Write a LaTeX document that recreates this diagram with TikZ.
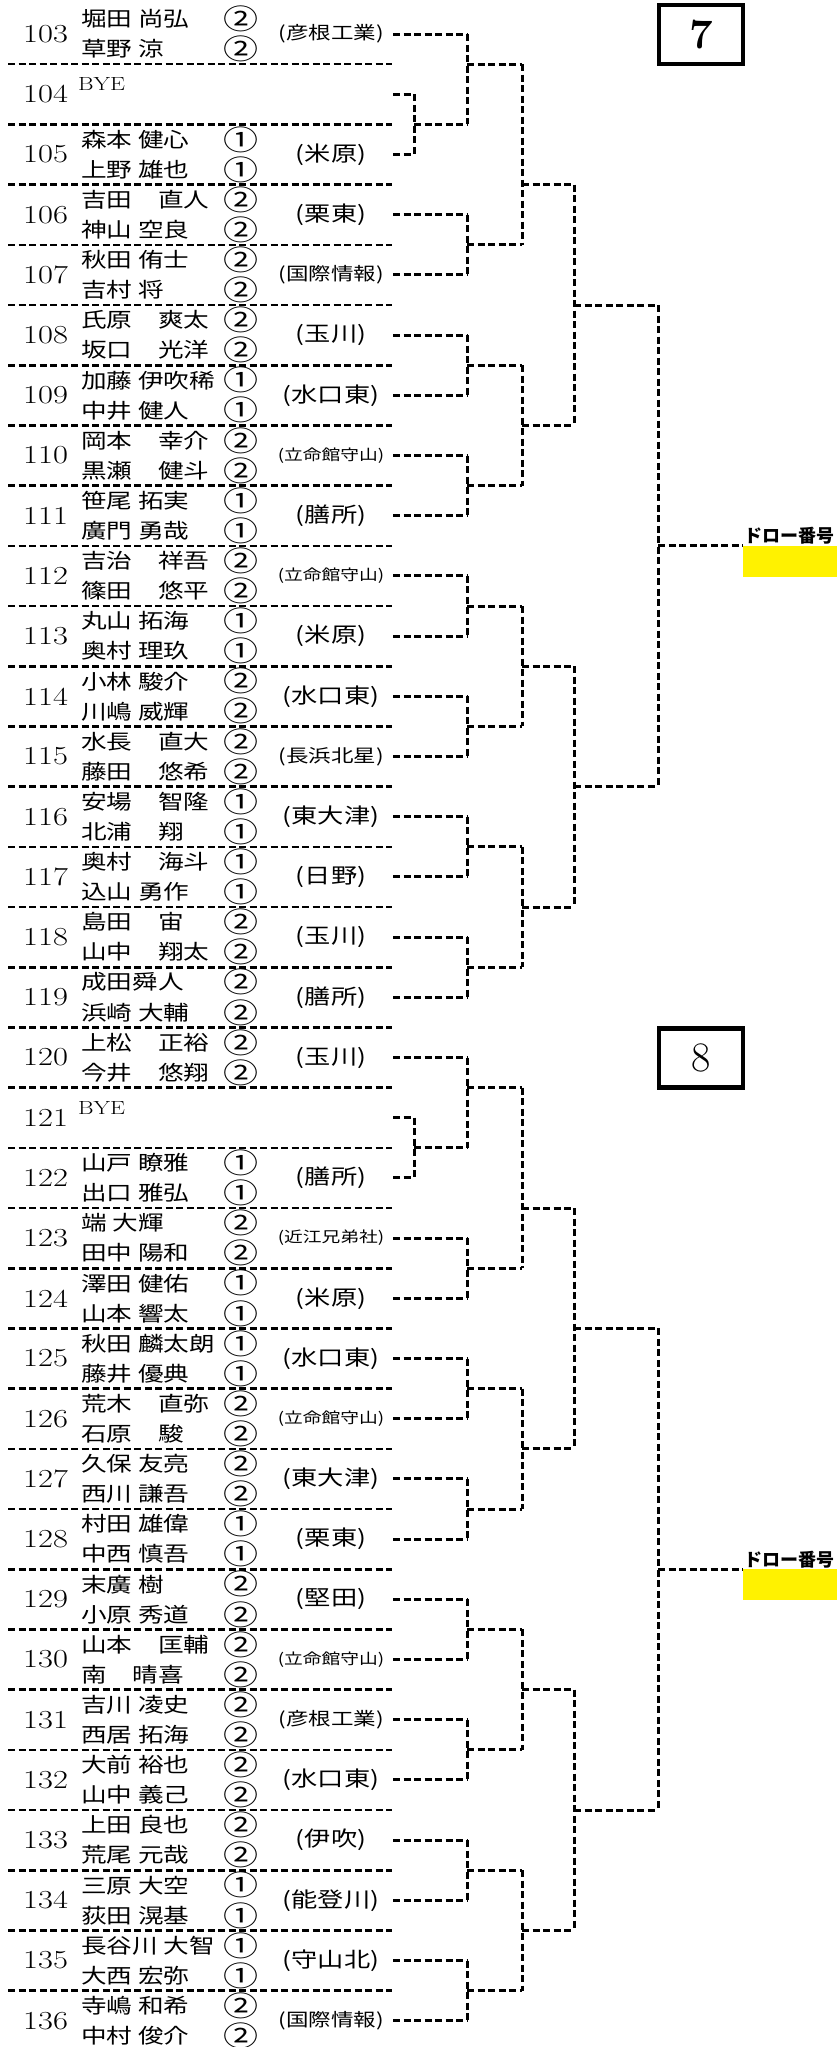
\documentclass[tikz,border=0pt]{standalone}
\usepackage{fontspec}
\usepackage{graphicx}
\newfontfamily\jp{Noto Sans CJK JP}
\newcommand{\wide}[1]{\scalebox{1.25}[1]{#1}}
\newcommand{\schM}[1]{{\fontsize{18}{18}\selectfont #1}}
\newcommand{\schS}[1]{{\fontsize{15}{15}\selectfont #1}}

\begin{document}
\begin{tikzpicture}[x=1pt, y=-30.1pt,
  brk/.style={line width=3pt, dash pattern=on 7pt off 3.5pt},
  sep/.style={line width=2.6pt, dash pattern=on 7pt off 3.5pt},
  num/.style={anchor=west, inner sep=0pt, font=\fontsize{26}{26}\selectfont},
  player/.style={anchor=west, inner sep=0pt, font=\jp\fontsize{20.5}{20.5}\selectfont},
  grade/.style={inner sep=0pt, font=\jp\fontsize{28}{28}\selectfont},
  school/.style={inner sep=0pt, font=\jp\fontsize{21}{21}\selectfont},
  bye/.style={anchor=west, inner sep=0pt, font=\fontsize{19}{19}\selectfont},
  blkbox/.style={draw, line width=4.5pt, minimum width=84pt, minimum height=59pt, font=\fontsize{42}{42}\selectfont},
  slot/.style={fill=yellow, anchor=north west, inner sep=0pt, minimum width=94pt, minimum height=31pt},
  slotlbl/.style={anchor=south west, inner sep=1pt, font=\jp\bfseries\fontsize{18}{18}\selectfont}]

\useasboundingbox (0pt,4pt) rectangle (837pt,-2043pt);

\foreach \k in {2,4,...,66}
    \draw[sep] (8,\k) -- (392,\k);

\foreach \n/\pa/\pb/\g/\s in {
 103/堀田 尚弘/草野 涼/②/\schM{(彦根工業)},
 105/森本 健心/上野 雄也/①/(米原),
 106/吉田　直人/神山 空良/②/(栗東),
 107/秋田 侑士/吉村 将/②/\schM{(国際情報)},
 108/氏原　爽太/坂口　光洋/②/(玉川),
 109/加藤 伊吹稀/中井 健人/①/(水口東),
 110/岡本　幸介/黒瀬　健斗/②/\schS{(立命館守山)},
 111/笹尾 拓実/廣門 勇哉/①/(膳所),
 112/吉治　祥吾/篠田　悠平/②/\schS{(立命館守山)},
 113/丸山 拓海/奥村 理玖/①/(米原),
 114/小林 駿介/川嶋 威輝/②/(水口東),
 115/水長　直大/藤田　悠希/②/\schM{(長浜北星)},
 116/安場　智隆/北浦　翔/①/(東大津),
 117/奥村　海斗/込山 勇作/①/(日野),
 118/島田　宙/山中　翔太/②/(玉川),
 119/成田舜人/浜崎 大輔/②/(膳所),
 120/上松　正裕/今井　悠翔/②/(玉川),
 122/山戸 瞭雅/出口 雅弘/①/(膳所),
 123/端 大輝/田中 陽和/②/\schS{(近江兄弟社)},
 124/澤田 健佑/山本 響太/①/(米原),
 125/秋田 麟太朗/藤井 優典/①/(水口東),
 126/荒木　直弥/石原　駿/②/\schS{(立命館守山)},
 127/久保 友亮/西川 謙吾/②/(東大津),
 128/村田 雄偉/中西 慎吾/①/(栗東),
 129/末廣 樹/小原 秀道/②/(堅田),
 130/山本　匡輔/南　晴喜/②/\schS{(立命館守山)},
 131/吉川 凌史/西居 拓海/②/\schM{(彦根工業)},
 132/大前 裕也/山中 義己/②/(水口東),
 133/上田 良也/荒尾 元哉/②/(伊吹),
 134/三原 大空/荻田 滉基/①/(能登川),
 135/長谷川 大智/大西 宏弥/①/(守山北),
 136/寺嶋 和希/中村 俊介/②/\schM{(国際情報)}}
{
    \pgfmathtruncatemacro{\k}{2*(\n-103)+1}
    \pgfmathsetmacro{\e}{(\n==105 || \n==122) ? 414 : 467}
    \node[num] (n\n) at (23,\k) {\wide{\n}};
    \node[player] (p\n-a) at (81,\k-0.5) {\wide{\pa}};
    \node[player] (p\n-b) at (81,\k+0.5) {\wide{\pb}};
    \node[grade] (g\n-a) at (241,\k-0.5) {\wide{\g}};
    \node[grade] (g\n-b) at (241,\k+0.5) {\wide{\g}};
    \node[school] (s\n) at (331,\k) {\wide{\s}};
    \coordinate (e\n) at (393,\k);
    \draw[brk] (e\n) -- (\e,\k);
}

% BYE
\foreach \n/\k in {104/3,121/37} {
    \node[num] (n\n) at (23,\k) {\wide{\n}};
    \node[bye] (b\n) at (78,\k-0.33) {\wide{BYE}};
    \coordinate (e\n) at (393,\k);
    \draw[brk] (e\n) -- (414,\k);
}

\foreach \off in {0,34}
    \foreach \x/\a/\b/\o/\nx in {414/3/5/4/467, 467/1/4/2/522, 467/7/9/8/522,
        467/11/13/12/522, 467/15/17/16/522, 467/19/21/20/522, 467/23/25/24/522,
        467/27/29/28/522, 467/31/33/32/522, 522/2/8/6/574, 522/12/16/14/574,
        522/20/24/22/574, 522/28/32/30/574, 574/6/14/10/658, 574/22/30/26/658} {
        \draw[brk] (\x,\a+\off) -- (\x,\b+\off);
        \draw[brk] (\x,\o+\off) -- (\nx,\o+\off);
    }

\foreach \blk/\off in {7/0,8/34} {
    \draw[brk] (658,10+\off) -- (658,26+\off);
    \node[slot] (slot\blk) at (743,18+\off) {};
    \node[slotlbl] (lbl\blk) at (slot\blk.north west) {ドロー番号};
    \draw[brk] (658,18+\off) -- (slot\blk.north west);
}

\node[blkbox] (box7) at (701,1.013) {\bfseries 7};
\node[blkbox] (box8) at (701,35.013) {8};
\end{tikzpicture}
\end{document}
